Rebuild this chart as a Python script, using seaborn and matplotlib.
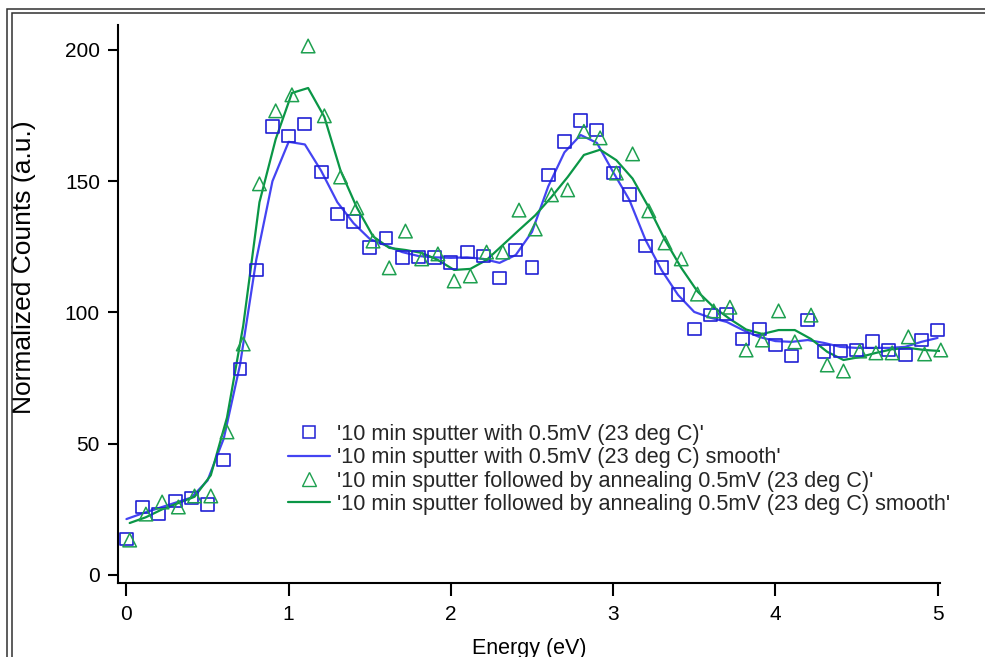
import numpy as np
import pandas as pd
import matplotlib
matplotlib.use("Agg")
import matplotlib.pyplot as plt
from matplotlib.lines import Line2D
from matplotlib.patches import Rectangle
import seaborn as sns

# energy grids (eV): squares sit on 0.1 steps, triangles are shifted by 0.02
energy_sputter = np.linspace(0.0, 5.0, 51)
energy_anneal = np.linspace(0.02, 5.02, 51)

sputter_counts = [13.7, 25.9, 23.2, 28.2, 29.3, 27.0, 43.8, 78.5, 116.2, 170.7,
                  167.2, 171.8, 153.5, 137.5, 134.5, 124.6, 128.4, 120.8, 121.1, 120.8,
                  118.9, 123.0, 121.5, 113.1, 123.8, 117.0, 152.4, 165.0, 173.0, 169.5,
                  153.1, 144.8, 125.3, 117.0, 106.7, 93.7, 99.0, 99.4, 89.9, 93.7,
                  87.6, 83.4, 97.1, 85.0, 85.3, 85.7, 88.8, 85.7, 83.8, 89.5, 93.3]
sputter_smooth = [21.3, 23.5, 25.5, 27.5, 29.5, 36.0, 52.0, 80.0, 120.0, 150.0,
                  165.0, 164.0, 154.0, 142.0, 134.0, 128.0, 125.5, 123.0, 121.5, 121.0,
                  120.8, 121.0, 120.4, 118.9, 121.9, 130.7, 148.0, 161.0, 167.6, 164.6,
                  153.5, 142.9, 127.6, 116.0, 106.7, 100.2, 98.0, 96.4, 93.3, 90.7,
                  89.1, 88.8, 89.5, 88.4, 86.9, 86.5, 86.5, 86.5, 86.9, 88.8, 90.3]
anneal_counts = [13.3, 23.2, 27.8, 25.9, 30.1, 30.1, 54.5, 88.0, 149.0, 176.8,
                 182.9, 201.5, 174.9, 151.6, 139.8, 127.2, 117.0, 131.0, 120.4, 122.3,
                 112.0, 113.9, 123.0, 123.0, 139.0, 131.8, 144.8, 146.7, 169.0, 166.5,
                 153.1, 160.4, 138.7, 126.5, 120.4, 107.0, 100.6, 102.0, 85.7, 89.5,
                 100.6, 88.8, 99.0, 80.0, 77.7, 85.3, 84.6, 84.6, 90.7, 84.2, 85.7]
anneal_smooth = [19.8, 22.0, 25.0, 27.4, 29.8, 38.0, 60.0, 95.0, 142.0, 166.0,
                 183.6, 185.5, 174.5, 154.0, 140.0, 129.0, 124.6, 123.8, 122.7, 120.0,
                 116.2, 116.6, 120.0, 125.7, 131.4, 137.0, 144.0, 151.6, 160.0, 162.0,
                 158.0, 151.0, 140.0, 127.6, 117.0, 108.0, 102.0, 97.5, 93.5, 91.8,
                 93.3, 93.3, 89.9, 85.0, 81.9, 83.0, 84.6, 86.0, 86.5, 85.7, 85.3]

labels = ["'10 min sputter with 0.5mV (23 deg C)'",
          "'10 min sputter with 0.5mV (23 deg C) smooth'",
          "'10 min sputter followed by annealing 0.5mV (23 deg C)'",
          "'10 min sputter followed by annealing 0.5mV (23 deg C) smooth'"]

sputter = pd.DataFrame({"E": energy_sputter, "raw": sputter_counts, "smooth": sputter_smooth})
anneal = pd.DataFrame({"E": energy_anneal, "raw": anneal_counts, "smooth": anneal_smooth})

sns.set_theme(style="ticks")
plt.rcParams["font.family"] = ["Liberation Sans", "DejaVu Sans"]

sq_col = "#2020d4"
blue_line = "#4444f2"
tri_col = "#1ea050"
green_line = "#0a9646"

fig = plt.figure(figsize=(9.85, 6.57), dpi=100)
ax = fig.add_axes([118 / 985, 1 - 583 / 657, 822 / 985, 558 / 657])

sns.lineplot(data=sputter, x="E", y="smooth", color=blue_line, lw=1.6, ax=ax)
sns.lineplot(data=anneal, x="E", y="smooth", color=green_line, lw=1.6, ax=ax)
sns.scatterplot(data=sputter, x="E", y="raw", marker="s", s=85, facecolors="none",
                edgecolor=sq_col, linewidth=1.2, ax=ax, clip_on=False, zorder=3)
sns.scatterplot(data=anneal, x="E", y="raw", marker="^", s=95, facecolors="none",
                edgecolor=tri_col, linewidth=1.1, ax=ax, clip_on=False, zorder=3)

ax.set_xlim(-0.052, 5.015)
ax.set_ylim(-3.05, 209.5)
ax.set_xticks([0, 1, 2, 3, 4, 5])
ax.set_yticks([0, 50, 100, 150, 200])
sns.despine(ax=ax)
for s in ("left", "bottom"):
    ax.spines[s].set_linewidth(1.5)
    ax.spines[s].set_color("black")
ax.tick_params(axis="x", direction="out", length=9, width=1.5, pad=7, labelsize=15, colors="black")
ax.tick_params(axis="y", direction="out", length=7, width=1.5, pad=6, labelsize=15, colors="black")
ax.set_xlabel("Energy (eV)", fontsize=15.5, labelpad=10, color="black")
ax.set_ylabel("Normalized Counts (a.u.)", fontsize=19, color="black")
ax.yaxis.set_label_coords(-0.1, 0.566)

handles = [Line2D([], [], ls="none", marker="s", ms=9, mfc="none", mec=sq_col, mew=1.1),
           Line2D([], [], color=blue_line, lw=1.6),
           Line2D([], [], ls="none", marker="^", ms=10, mfc="none", mec=tri_col, mew=1.0),
           Line2D([], [], color=green_line, lw=1.6)]
fig.legend(handles, labels, loc="upper left", bbox_to_anchor=(288 / 985, 1 - 424 / 657),
           frameon=False, fontsize=15.6, borderpad=0, borderaxespad=0,
           handlelength=1.95, handletextpad=0.33, labelspacing=0.105)

# double frame around the graph window
for x0, y0 in ((7, 9), (12, 13)):
    fig.add_artist(Rectangle((x0 / 985, -0.1), 1.2, 1 - y0 / 657 + 0.1,
                             transform=fig.transFigure, fill=False,
                             edgecolor="#303030", lw=1.1, clip_on=False))

fig.savefig("out.png", dpi=100)
